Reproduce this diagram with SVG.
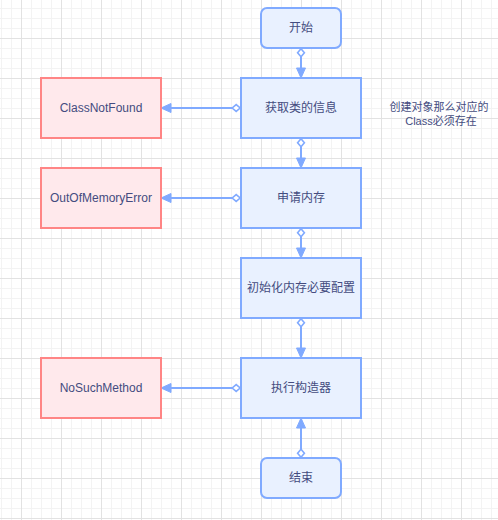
<svg xmlns="http://www.w3.org/2000/svg" width="498" height="520" viewBox="0 0 498 520">
  <defs>
    <pattern id="grid" x="21" y="38" width="40" height="40" patternUnits="userSpaceOnUse">
      <path d="M10.5,0V40M20.5,0V40M30.5,0V40M0,10.5H40M0,20.5H40M0,30.5H40" stroke="#f3f3f3" stroke-width="1" fill="none"/>
      <path d="M0.5,0V40M0,0.5H40" stroke="#e2e2e2" stroke-width="1" fill="none"/>
    </pattern>
    <marker id="arrow" markerUnits="userSpaceOnUse" markerWidth="12" markerHeight="12" refX="6" refY="4.5" orient="auto" overflow="visible">
      <path d="M0,0 L10,4.5 L0,9 Z" fill="#80AAFF" stroke="#80AAFF" stroke-width="1"/>
    </marker>
    <marker id="diamond" markerUnits="userSpaceOnUse" markerWidth="12" markerHeight="12" refX="0" refY="4" orient="auto" overflow="visible">
      <path d="M0.8,4 L4.8,0.6 L8.8,4 L4.8,7.4 Z" fill="#ffffff" stroke="#80AAFF" stroke-width="1.6"/>
    </marker>
  </defs>
  <style>
    .step { fill: #E9F1FF; stroke: #80AAFF; stroke-width: 2; }
    .err { fill: #FFE9EC; stroke: #FF8585; stroke-width: 2; }
    .lbl { font-family: "Liberation Sans", "Noto Sans CJK SC", sans-serif; font-size: 12px; fill: #444C80; text-anchor: middle; }
    .note { font-family: "Liberation Sans", "Noto Sans CJK SC", sans-serif; font-size: 11px; fill: #444C80; text-anchor: middle; }
    .edge { fill: none; stroke: #80AAFF; stroke-width: 2; marker-start: url(#diamond); marker-end: url(#arrow); }
  </style>
  <rect x="0" y="0" width="498" height="520" fill="#ffffff"/>
  <rect x="0" y="0" width="498" height="520" fill="url(#grid)"/>

  <g id="connectors">
    <path class="edge" d="M301,48 V74"/>
    <path class="edge" d="M241,108 H165"/>
    <path class="edge" d="M301,138 V164"/>
    <path class="edge" d="M241,198 H165"/>
    <path class="edge" d="M301,228 V254"/>
    <path class="edge" d="M301,318 V354"/>
    <path class="edge" d="M241,388 H165"/>
    <path class="edge" d="M301,458 V422"/>
  </g>

  <g id="start">
    <rect class="step" x="261" y="8" width="80" height="40" rx="6"/>
    <text class="lbl" x="301" y="32">开始</text>
  </g>
  <g id="getClassInfo">
    <rect class="step" x="241" y="78" width="120" height="60"/>
    <text class="lbl" x="301" y="112">获取类的信息</text>
  </g>
  <g id="classNotFound">
    <rect class="err" x="41" y="78" width="120" height="60"/>
    <text class="lbl" x="101" y="112">ClassNotFound</text>
  </g>
  <g id="allocMemory">
    <rect class="step" x="241" y="168" width="120" height="60"/>
    <text class="lbl" x="301" y="202">申请内存</text>
  </g>
  <g id="outOfMemory">
    <rect class="err" x="41" y="168" width="120" height="60"/>
    <text class="lbl" x="101" y="202">OutOfMemoryError</text>
  </g>
  <g id="initMemory">
    <rect class="step" x="241" y="258" width="120" height="60"/>
    <text class="lbl" x="301" y="292">初始化内存必要配置</text>
  </g>
  <g id="runConstructor">
    <rect class="step" x="241" y="358" width="120" height="60"/>
    <text class="lbl" x="301" y="392">执行构造器</text>
  </g>
  <g id="noSuchMethod">
    <rect class="err" x="41" y="358" width="120" height="60"/>
    <text class="lbl" x="101" y="392">NoSuchMethod</text>
  </g>
  <g id="end">
    <rect class="step" x="261" y="458" width="80" height="40" rx="6"/>
    <text class="lbl" x="301" y="482">结束</text>
  </g>
  <g id="note">
    <text class="note" x="439" y="111">创建对象那么对应的</text>
    <text class="note" x="441" y="125">Class必须存在</text>
  </g>
</svg>
